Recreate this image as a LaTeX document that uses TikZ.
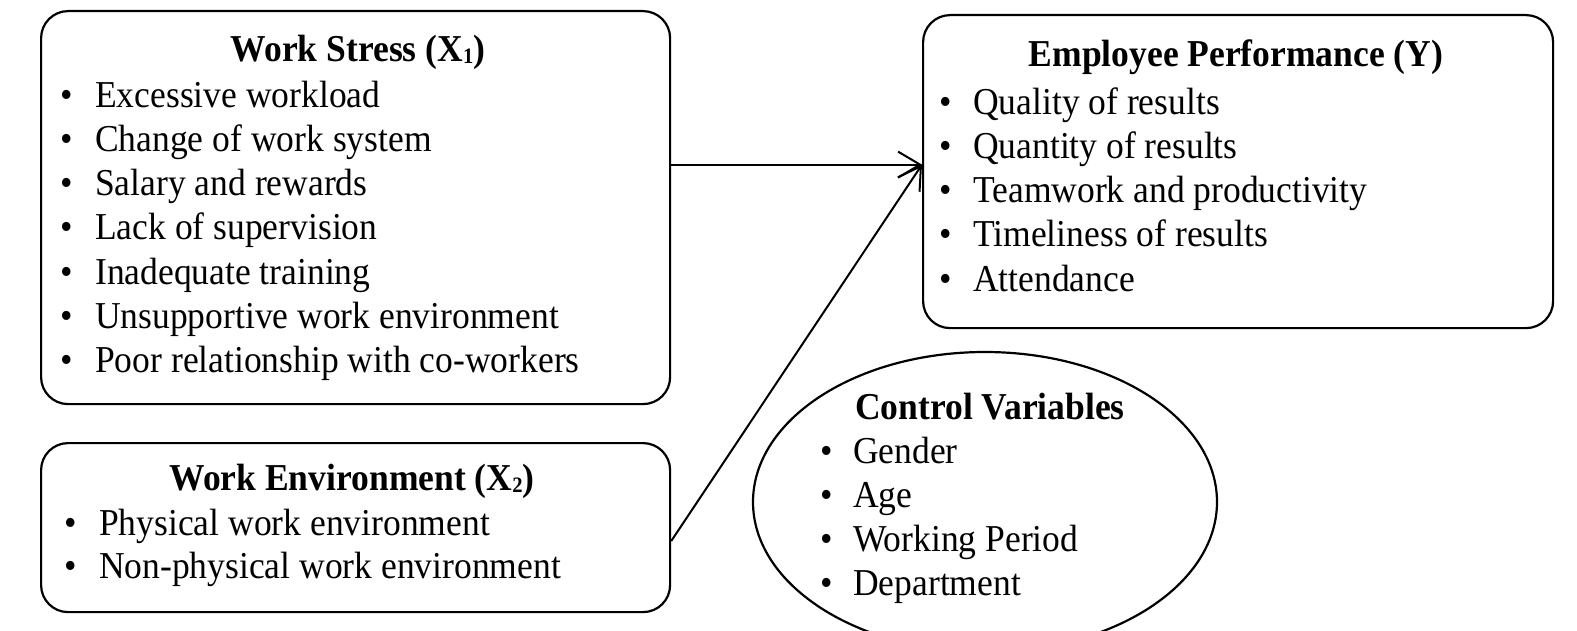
\documentclass[tikz,border=0pt]{standalone}
\usepackage{fontspec}
\setmainfont[FakeStretch=0.935]{Liberation Serif}
\usetikzlibrary{arrows.meta,shapes.geometric}
\begin{document}
\begin{tikzpicture}[x=1pt,y=-1pt,
  box/.style={draw, line width=2.2pt, rounded corners=27pt, anchor=north west, inner sep=0pt},
  txt/.style={anchor=base west, inner sep=0pt, font=\fontsize{38}{44}\selectfont},
  bul/.style={anchor=base, inner sep=0pt, font=\fontsize{38}{44}\selectfont},
  ttl/.style={anchor=base, inner sep=0pt, font=\fontsize{38}{44}\selectfont\bfseries},
  arr/.style={line width=2pt, -{Straight Barb[length=22pt,width=26pt,line width=2pt]}}]
\newcommand{\subone}[1]{\raisebox{-2pt}{\fontsize{22}{22}\selectfont #1}}
\useasboundingbox (0,0) rectangle (1577,631);
\clip (0,0) rectangle (1577,631);
% boxes
\node[box, minimum width=629pt, minimum height=393pt] (ws) at (40,10) {};
\node[box, minimum width=629pt, minimum height=169pt] (we) at (40,442) {};
\node[box, minimum width=630pt, minimum height=313pt] (ep) at (922,14) {};
\node[draw, line width=2.2pt, ellipse, minimum width=464pt, minimum height=300pt, inner sep=0pt] (cv) at (985,502) {};
% Work Stress
\node[ttl] (wst) at (358,62) {Work Stress (X\subone{1})};
\foreach \t [count=\i] in {Excessive workload, Change of work system, Salary and rewards, Lack of supervision, Inadequate training, Unsupportive work environment, Poor relationship with co-workers}{
  \node[bul] (wsb\i) at (67,{108+44*(\i-1)}) {\textbullet};
  \node[txt] (wsl\i) at (95,{108+44*(\i-1)}) {\t};
}
% Work Environment
\node[ttl] (wet) at (352,490) {Work Environment (X\subone{2})};
\foreach \t [count=\i] in {Physical work environment, Non-physical work environment}{
  \node[bul] (web\i) at (71,{535+43*(\i-1)}) {\textbullet};
  \node[txt] (wel\i) at (99,{535+43*(\i-1)}) {\t};
}
% Employee Performance
\node[ttl] (ept) at (1236,67) {Employee Performance (Y)};
\foreach \t [count=\i] in {Quality of results, Quantity of results, Teamwork and productivity, Timeliness of results, Attendance}{
  \node[bul] (epb\i) at (946,{115+44*(\i-1)}) {\textbullet};
  \node[txt] (epl\i) at (973,{115+44*(\i-1)}) {\t};
}
% Control variables
\node[ttl] (cvt) at (990,419) {Control Variables};
\foreach \t [count=\i] in {Gender, Age, Working Period, Department}{
  \node[bul] (cvb\i) at (827,{463+44*(\i-1)}) {\textbullet};
  \node[txt] (cvl\i) at (853,{463+44*(\i-1)}) {\t};
}
% arrows
\coordinate (tip) at ([yshift=7pt]ep.west);
\coordinate (wsout) at (ws.east |- tip);
\coordinate (weout) at ([yshift=-13.5pt]we.east);
\draw[arr] (wsout) -- (tip);
\draw[arr] (weout) -- (tip);
\end{tikzpicture}
\end{document}
